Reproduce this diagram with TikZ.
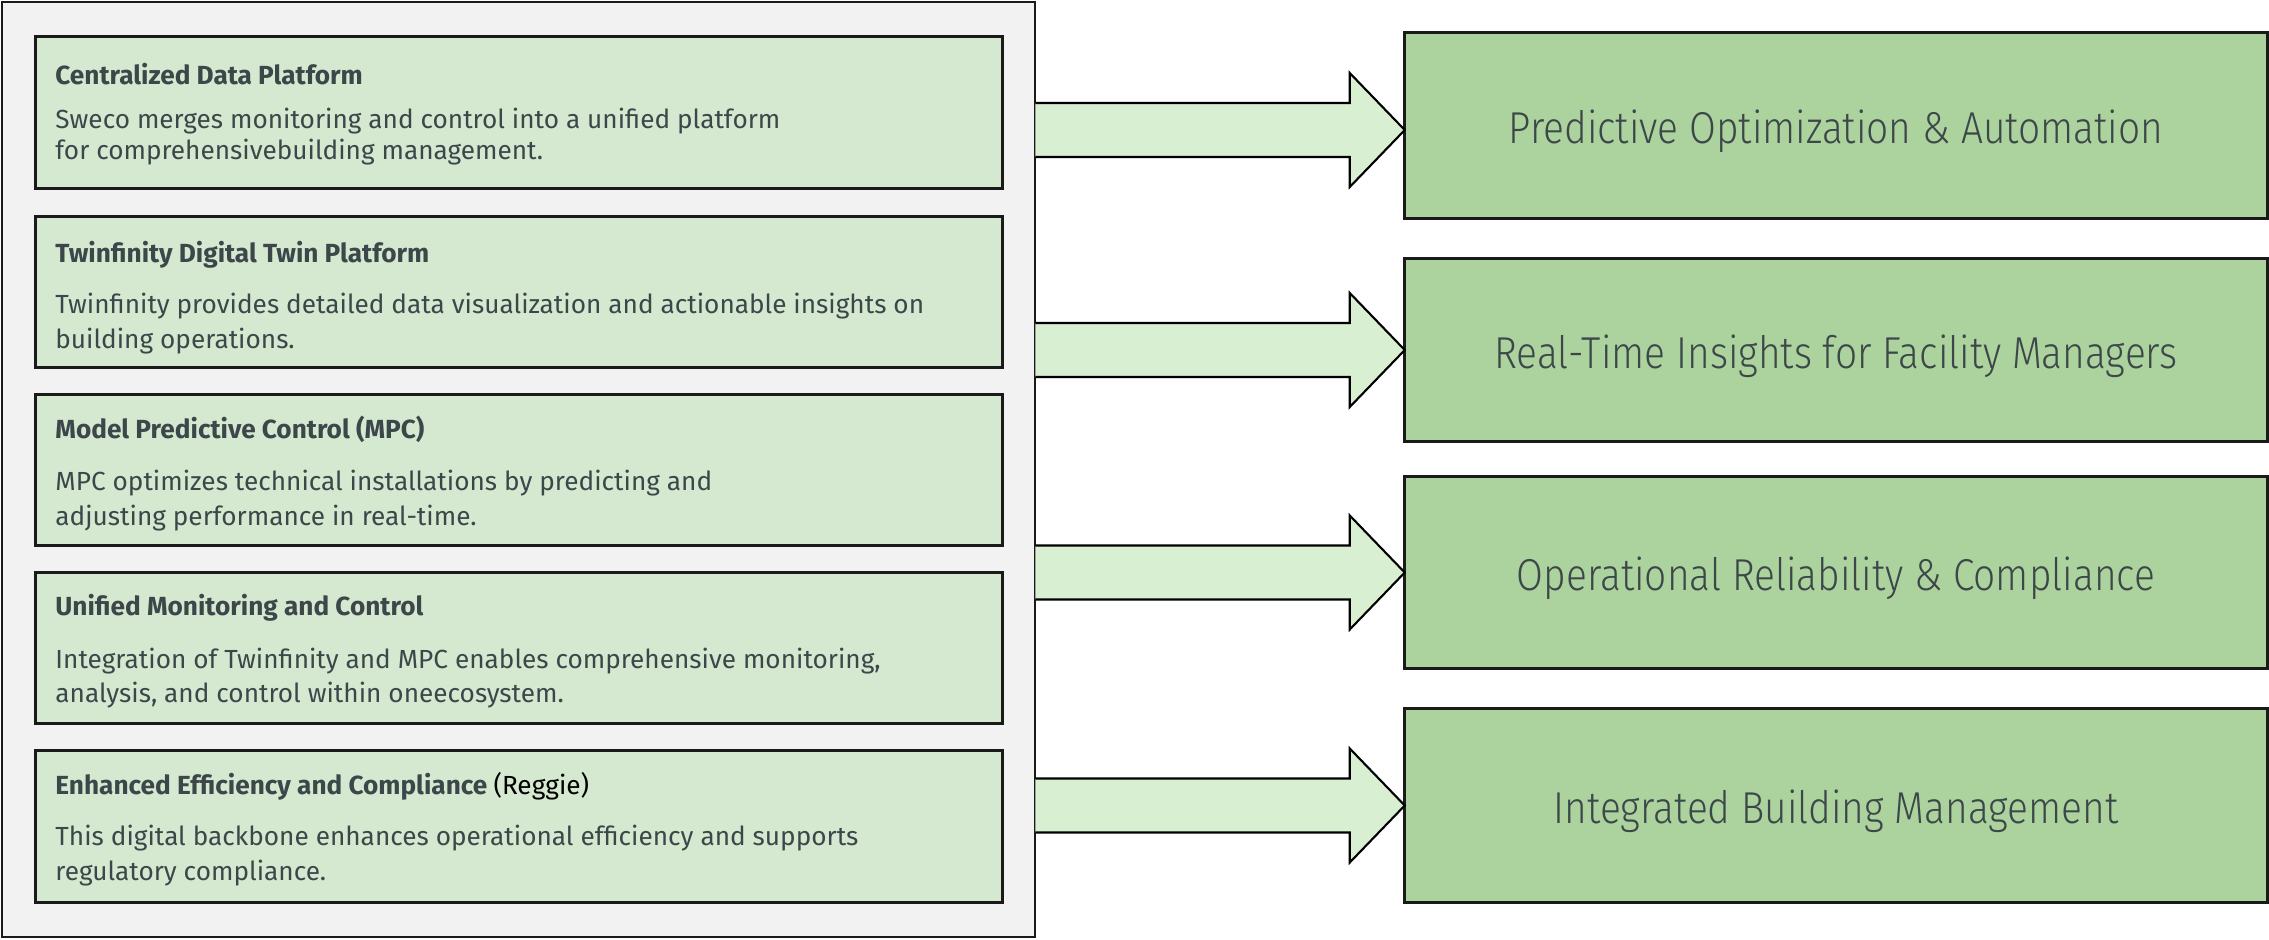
\documentclass[tikz,border=0pt]{standalone}
\usepackage{fontspec}
\setmainfont{Fira Sans}
\newfontfamily\rfont[FakeStretch=0.87]{Fira Sans Light}
\usetikzlibrary{calc}
\definecolor{outerfill}{HTML}{F2F2F2}
\definecolor{innerfill}{HTML}{D5E8D0}
\definecolor{rightfill}{HTML}{ACD29D}
\definecolor{arrowfill}{HTML}{D9EFD2}
\definecolor{txt}{HTML}{3C474A}
\definecolor{edge}{HTML}{1A1A1A}
\begin{document}
\begin{tikzpicture}[x=0.01cm,y=-0.01cm,
  outerbox/.style={draw=edge, line width=0.6pt, fill=outerfill, inner sep=0pt, outer sep=0pt,
    minimum width=10.33cm, minimum height=9.35cm},
  innerbox/.style={draw=edge, line width=0.85pt, fill=innerfill, inner sep=0pt, outer sep=0pt,
    minimum width=9.66cm, minimum height=1.51cm},
  rightbox/.style={draw=edge, line width=0.85pt, fill=rightfill, inner sep=0pt, outer sep=0pt,
    minimum width=8.62cm, text=txt, text height=0.36cm, text depth=0cm,
    font=\rfont\fontsize{12.7pt}{15pt}\selectfont},
  blockarrow/.style={draw=black, line width=0.6pt, fill=arrowfill, line join=miter},
  ttl/.style={anchor=base west, inner sep=0pt, text=txt, font=\fontsize{7.45pt}{9pt}\selectfont\bfseries},
  bodyline/.style={anchor=base west, inner sep=0pt, text=txt, font=\fontsize{7.45pt}{9pt}\selectfont}]
\useasboundingbox (0,0) rectangle (2269,939);

\node[outerbox] (outer) at (518.5,469.5) {};

\node[innerbox] (b1) at (519,112.5) {};
\node[innerbox] (b2) at (519,292) {};
\node[innerbox] (b3) at (519,470) {};
\node[innerbox] (b4) at (519,648) {};
\node[innerbox] (b5) at (519,826.5) {};

% box 1
\node[ttl] (t1) at ([shift={(19,48)}]b1.north west) {Centralized Data Platform};
\node[bodyline] (l11) at ([shift={(19,92)}]b1.north west) {Sweco merges monitoring and control into a unified platform};
\node[bodyline] (l12) at ([shift={(19,123)}]b1.north west) {for comprehensivebuilding management.};
% box 2
\node[ttl] (t2) at ([shift={(19,46)}]b2.north west) {Twinfinity Digital Twin Platform};
\node[bodyline] (l21) at ([shift={(19,97)}]b2.north west) {Twinfinity provides detailed data visualization and actionable insights on};
\node[bodyline] (l22) at ([shift={(19,132)}]b2.north west) {building operations.};
% box 3
\node[ttl] (t3) at ([shift={(19,44)}]b3.north west) {Model Predictive Control (MPC)};
\node[bodyline] (l31) at ([shift={(19,96)}]b3.north west) {MPC optimizes technical installations by predicting and};
\node[bodyline] (l32) at ([shift={(19,131)}]b3.north west) {adjusting performance in real-time.};
% box 4
\node[ttl] (t4) at ([shift={(19,43)}]b4.north west) {Unified Monitoring and Control};
\node[bodyline] (l41) at ([shift={(19,96)}]b4.north west) {Integration of Twinfinity and MPC enables comprehensive monitoring,};
\node[bodyline] (l42) at ([shift={(19,130)}]b4.north west) {analysis, and control within oneecosystem.};
% box 5
\node[ttl] (t5) at ([shift={(19,44)}]b5.north west) {Enhanced Efficiency and Compliance {\mdseries\color{black}(Reggie)}};
\node[bodyline] (l51) at ([shift={(19,95)}]b5.north west) {This digital backbone enhances operational efficiency and supports};
\node[bodyline] (l52) at ([shift={(19,130)}]b5.north west) {regulatory compliance.};

% right boxes
\node[rightbox, minimum height=1.85cm] (r1) at (1836,125.5) {Predictive Optimization \& Automation};
\node[rightbox, minimum height=1.82cm] (r2) at (1836,350) {Real-Time Insights for Facility Managers};
\node[rightbox, minimum height=1.91cm] (r3) at (1836,572.5) {Operational Reliability \& Compliance};
\node[rightbox, minimum height=1.93cm] (r4) at (1836,805.5) {Integrated Building Management};

% block arrows
\coordinate (tip1) at ($(r1.west)+(0,4.5)$);
\filldraw[blockarrow] ($(outer.east |- tip1)+(0,-27)$) -- ($(tip1)+(-55,-27)$) -- ($(tip1)+(-55,-57)$) -- (tip1)
  -- ($(tip1)+(-55,57)$) -- ($(tip1)+(-55,27)$) -- ($(outer.east |- tip1)+(0,27)$);
\foreach \r in {r2,r3,r4}{
  \filldraw[blockarrow] ($(outer.east |- \r.west)+(0,-27)$) -- ($(\r.west)+(-55,-27)$) -- ($(\r.west)+(-55,-57)$) -- (\r.west)
    -- ($(\r.west)+(-55,57)$) -- ($(\r.west)+(-55,27)$) -- ($(outer.east |- \r.west)+(0,27)$);
}
\end{tikzpicture}
\end{document}
